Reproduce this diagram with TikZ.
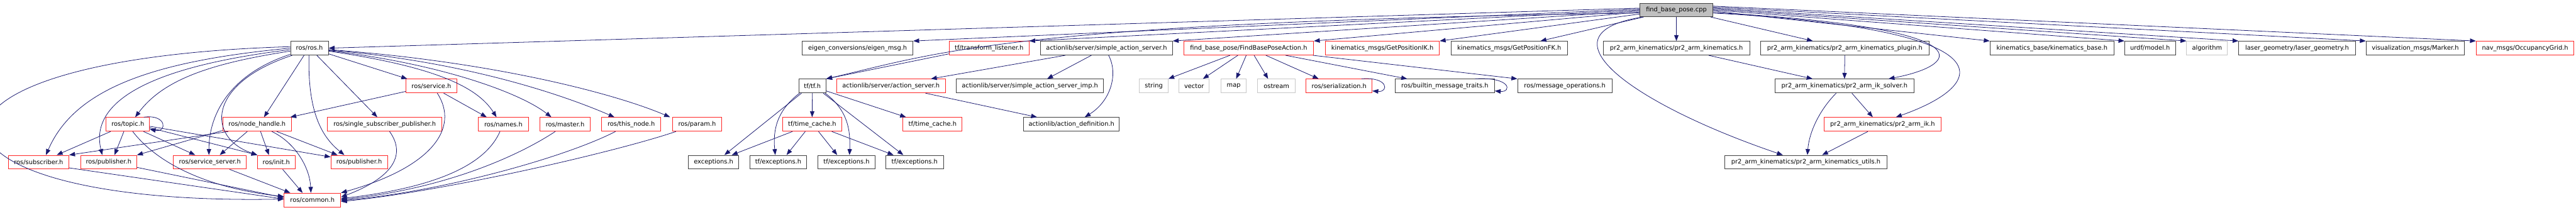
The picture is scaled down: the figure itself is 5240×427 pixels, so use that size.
\documentclass[tikz,border=0pt]{standalone}
\usepackage{fontspec}
\newfontfamily\dvfont{DejaVu Sans}
\usetikzlibrary{arrows.meta,calc}
\definecolor{midnight}{HTML}{191970}
\definecolor{fillgray}{HTML}{BFBFBF}
\definecolor{darkline}{HTML}{404040}
\definecolor{paleline}{HTML}{C8C8C8}
\newcommand{\boxfont}{\dvfont\fontsize{12.6pt}{15pt}\selectfont}
\tikzset{
  blk/.style={draw=darkline, fill=white, line width=1.2pt, minimum height=28pt, inner sep=0pt, font=\boxfont},
  redbox/.style={blk, draw=red!85!white},
  palebox/.style={blk, draw=paleline},
  rootbox/.style={blk, fill=fillgray, draw=darkline},
  dep/.style={draw=midnight, line width=1pt, -{Triangle[length=12pt,width=9pt]}},
}
\begin{document}
\begin{tikzpicture}[x=1pt,y=-1pt]
\useasboundingbox (0,0) rectangle (5240,427);
% row 0
\node[rootbox, minimum width=148pt, minimum height=27pt] (cpp) at (3410,20.5) {find\_base\_pose.cpp};
% row 1
\node[blk, minimum width=77pt] (ros) at (629.5,98) {ros/ros.h};
\node[blk, minimum width=225pt] (eigen) at (1744.5,98) {eigen\_conversions/eigen\_msg.h};
\node[redbox, minimum width=162pt] (tflist) at (2012,98) {tf/transform\_listener.h};
\node[blk, minimum width=268pt] (sas) at (2251,98) {actionlib/server/simple\_action\_server.h};
\node[redbox, minimum width=264pt] (fbpa) at (2540,98) {find\_base\_pose/FindBasePoseAction.h};
\node[redbox, minimum width=232pt] (gpik) at (2812,98) {kinematics\_msgs/GetPositionIK.h};
\node[blk, minimum width=236pt] (gpfk) at (3070,98) {kinematics\_msgs/GetPositionFK.h};
\node[blk, minimum width=298pt] (pak) at (3410,98) {pr2\_arm\_kinematics/pr2\_arm\_kinematics.h};
\node[blk, minimum width=343pt] (pakp) at (3752.5,98) {pr2\_arm\_kinematics/pr2\_arm\_kinematics\_plugin.h};
\node[blk, minimum width=252pt] (kb) at (4174,98) {kinematics\_base/kinematics\_base.h};
\node[blk, minimum width=103pt] (urdf) at (4373.5,98) {urdf/model.h};
\node[palebox, minimum width=83pt] (algo) at (4489.5,98) {algorithm};
\node[blk, minimum width=237pt] (laser) at (4672.5,98) {laser\_geometry/laser\_geometry.h};
\node[blk, minimum width=200pt] (marker) at (4913,98) {visualization\_msgs/Marker.h};
\node[redbox, minimum width=199pt] (occ) at (5136.5,98) {nav\_msgs/OccupancyGrid.h};
% row 2
\node[redbox, minimum width=103pt] (service) at (877.5,175) {ros/service.h};
\node[blk, minimum width=55pt] (tf) at (1652.5,175) {tf/tf.h};
\node[redbox, minimum width=221pt] (as) at (1812.5,175) {actionlib/server/action\_server.h};
\node[blk, minimum width=300pt] (sasi) at (2095,175) {actionlib/server/simple\_action\_server\_imp.h};
\node[palebox, minimum width=58pt] (string) at (2347,175) {string};
\node[palebox, minimum width=62pt] (vector) at (2429,175) {vector};
\node[palebox, minimum width=51pt] (map) at (2509.5,175) {map};
\node[palebox, minimum width=77pt] (ostream) at (2596.5,175) {ostream};
\node[redbox, minimum width=134pt] (ser) at (2724,175) {ros/serialization.h};
\node[blk, minimum width=202pt] (bmt) at (2939,175) {ros/builtin\_message\_traits.h};
\node[blk, minimum width=192pt] (mo) at (3183,175) {ros/message\_operations.h};
\node[blk, minimum width=282pt] (iks) at (3752,175) {pr2\_arm\_kinematics/pr2\_arm\_ik\_solver.h};
% row 3
\node[redbox, minimum width=88pt] (topic) at (260,253) {ros/topic.h};
\node[redbox, minimum width=140pt] (nh) at (523,253) {ros/node\_handle.h};
\node[redbox, minimum width=233pt] (ssp) at (782.5,253) {ros/single\_subscriber\_publisher.h};
\node[redbox, minimum width=102pt] (names) at (1024,253) {ros/names.h};
\node[redbox, minimum width=103pt] (master) at (1149.5,253) {ros/master.h};
\node[redbox, minimum width=120pt] (thisnode) at (1284,253) {ros/this\_node.h};
\node[redbox, minimum width=100pt] (param) at (1418,253) {ros/param.h};
\node[redbox, minimum width=120pt] (tc1) at (1652,253) {tf/time\_cache.h};
\node[redbox, minimum width=120pt] (tc2) at (1897,253) {tf/time\_cache.h};
\node[blk, minimum width=195pt] (ad) at (2179.5,253) {actionlib/action\_definition.h};
\node[redbox, minimum width=239pt] (ik) at (3829.5,253) {pr2\_arm\_kinematics/pr2\_arm\_ik.h};
% row 4
\node[redbox, minimum width=123pt] (sub) at (78.5,330) {ros/subscriber.h};
\node[redbox, minimum width=114pt] (pub1) at (221,330) {ros/publisher.h};
\node[redbox, minimum width=148pt] (ss) at (427,330) {ros/service\_server.h};
\node[redbox, minimum width=76pt] (init) at (562,330) {ros/init.h};
\node[redbox, minimum width=115pt] (pub2) at (730.5,330) {ros/publisher.h};
\node[blk, minimum width=103pt] (exc) at (1451.5,330) {exceptions.h};
\node[blk, minimum width=116pt] (tfe1) at (1583,330) {tf/exceptions.h};
\node[blk, minimum width=116pt] (tfe2) at (1722,330) {tf/exceptions.h};
\node[blk, minimum width=117pt] (tfe3) at (1860.5,330) {tf/exceptions.h};
\node[blk, minimum width=331pt] (utils) at (3673.5,330) {pr2\_arm\_kinematics/pr2\_arm\_kinematics\_utils.h};
% row 5
\node[redbox, minimum width=115pt] (common) at (635.5,407) {ros/common.h};

% ---- edges from find_base_pose.cpp
\draw[dep] ($(cpp.west)+(0,-4)$) -- (ros.east);
\draw[dep] ($(cpp.west)+(0,-2)$) -- (eigen.north east);
\draw[dep] ($(cpp.west)+(0,0)$) -- (tflist.north east);
\draw[dep] ($(cpp.west)+(0,2)$) -- (sas.north east);
\draw[dep] ($(cpp.west)+(0,4)$) -- (fbpa.north east);
\draw[dep] ($(cpp.west)+(0,8)$) -- (gpik.north east);
\draw[dep] ($(cpp.south west)+(8,0)$) -- ($(gpfk.north east)+(-55,0)$);
\draw[dep] (cpp.south) -- (pak.north);
\draw[dep] ($(cpp.south east)+(-5,0)$) -- ($(pakp.north)+(-65,0)$);
\draw[dep] ($(cpp.east)+(0,5)$) .. controls (4030,55) and (4000,130) .. ($(iks.north east)+(-52,0)$);
\draw[dep] ($(cpp.east)+(0,6)$) .. controls (4090,60) and (4050,170) .. ($(ik.north)+(27,0)$);
\draw[dep] ($(cpp.south west)+(6,0)$) .. controls (3120,70) and (3330,215) .. ($(utils.north)+(-47,0)$);
\draw[dep] ($(cpp.east)+(0,2)$) -- (kb.north west);
\draw[dep] ($(cpp.east)+(0,0)$) -- (urdf.north west);
\draw[dep] ($(cpp.east)+(0,-2)$) -- (algo.north west);
\draw[dep] ($(cpp.east)+(0,-4)$) -- (laser.north west);
\draw[dep] ($(cpp.east)+(0,-6)$) -- (marker.north west);
\draw[dep] ($(cpp.east)+(0,-8)$) -- (occ.north west);
\draw[dep] ($(cpp.west)+(0,6)$) .. controls (2050,45) and (1900,110) .. (tf.north east);
\draw[dep] ($(tflist.south west)+(0,-3)$) -- (tf.north east);

% ---- actionlib
\draw[dep] ($(sas.south)+(-84,0)$) -- ($(as.north east)+(-30,0)$);
\draw[dep] ($(sas.south)+(-31,0)$) -- ($(sasi.north)+(35,0)$);
\draw[dep] ($(sas.south)+(4,0)$) .. controls (2275,150) and (2260,205) .. ($(ad.north)+(27,0)$);
\draw[dep] ($(as.south)+(70,0)$) -- ($(ad.north)+(-70,0)$);

% ---- FindBasePoseAction.h
\draw[dep] ($(fbpa.south)+(-38,0)$) -- (string.north east);
\draw[dep] ($(fbpa.south)+(-22,0)$) -- ($(vector.north)+(18,0)$);
\draw[dep] ($(fbpa.south)+(-5,0)$) -- ($(map.north)+(5,0)$);
\draw[dep] ($(fbpa.south)+(11,0)$) -- ($(ostream.north)+(-17,0)$);
\draw[dep] ($(fbpa.south)+(35,0)$) -- ($(ser.north west)+(26,0)$);
\draw[dep] ($(fbpa.south)+(75,0)$) -- ($(bmt.north west)+(25,0)$);
\draw[dep] ($(fbpa.south east)+(-2,0)$) -- (mo.north west);
\draw[dep] ($(ser.north east)+(-22,0)$) .. controls (2825,156) and (2825,188) .. ($(ser.east)+(0,10)$);
\draw[dep] ($(bmt.north east)+(-40,0)$) .. controls (3075,156) and (3075,188) .. ($(bmt.east)+(0,10)$);

% ---- pr2
\draw[dep] ($(pak.south east)+(-84,0)$) -- ($(iks.north)+(-65,0)$);
\draw[dep] (pakp.south) -- (iks.north);
\draw[dep] ($(iks.south)+(-17,0)$) .. controls (3700,225) and (3680,270) .. ($(utils.north)+(3,0)$);
\draw[dep] ($(iks.south)+(15,0)$) -- ($(ik.north)+(-20,0)$);
\draw[dep] ($(ik.south)+(-30,0)$) -- ($(utils.north)+(33,0)$);

% ---- tf
\draw[dep] ($(tf.south west)+(6,0)$) -- ($(exc.north)+(22,0)$);
\draw[dep] ($(tf.south west)+(2,0)$) .. controls (1580,225) and (1572,265) .. ($(tfe1.north)+(-6,0)$);
\draw[dep] (tf.south) -- (tc1.north);
\draw[dep] ($(tf.south east)+(-2,0)$) .. controls (1725,225) and (1730,265) .. ($(tfe2.north)+(6,0)$);
\draw[dep] ($(tf.east)+(0,10)$) -- ($(tc2.north)+(-54,0)$);
\draw[dep] ($(tf.south east)+(-6,0)$) -- ($(tfe3.north)+(-23,0)$);
\draw[dep] ($(tc1.south)+(-40,0)$) -- ($(exc.north)+(37,0)$);
\draw[dep] ($(tc1.south)+(-14,0)$) -- ($(tfe1.north)+(17,0)$);
\draw[dep] ($(tc1.south)+(13,0)$) -- ($(tfe2.north)+(-19,0)$);
\draw[dep] ($(tc1.south)+(40,0)$) -- ($(tfe3.north)+(-43,0)$);

% ---- ros/ros.h
\draw[dep] ($(ros.south east)+(0,-3)$) -- ($(service.north west)+(3,0)$);
\draw[dep] ($(ros.south)+(-11,0)$) -- ($(nh.north)+(14,0)$);
\draw[dep] ($(ros.south)+(15,0)$) -- ($(ssp.north)+(-15,0)$);
\draw[dep] ($(ros.south)+(-1,0)$) .. controls (626,220) and (650,275) .. ($(pub2.north)+(-30,0)$);
\draw[dep] ($(ros.east)+(0,6)$) .. controls (880,135) and (970,175) .. ($(names.north)+(-14,0)$);
\draw[dep] ($(ros.east)+(0,5)$) .. controls (900,130) and (1060,190) .. ($(master.north)+(-28,0)$);
\draw[dep] ($(ros.east)+(0,4)$) .. controls (950,125) and (1150,195) .. ($(thisnode.north)+(-34,0)$);
\draw[dep] ($(ros.east)+(0,3)$) .. controls (1000,125) and (1250,190) .. ($(param.north)+(-55,0)$);
\draw[dep] ($(ros.west)+(0,6)$) .. controls (420,130) and (330,165) .. ($(topic.north)+(15,0)$);
\draw[dep] ($(ros.west)+(0,0)$) .. controls (300,125) and (150,185) .. ($(sub.north)+(15,0)$);
\draw[dep] ($(ros.west)+(0,3)$) .. controls (270,140) and (185,220) .. ($(pub1.north)+(-13,0)$);
\draw[dep] ($(ros.south west)+(0,-2)$) .. controls (470,150) and (425,230) .. ($(ss.north)+(-2,0)$);
\draw[dep] ($(ros.south west)+(4,0)$) .. controls (420,170) and (420,280) .. (init.north west);
\draw[dep] ($(ros.west)+(0,-3)$) .. controls (-260,120) and (-200,420) .. ($(common.west)+(0,-2)$);

% ---- ros/topic.h
\draw[dep] ($(topic.south)+(-35,0)$) -- ($(sub.north)+(37,0)$);
\draw[dep] ($(topic.south)+(-8,0)$) -- ($(pub1.north)+(12,0)$);
\draw[dep] ($(topic.south)+(32,0)$) -- ($(ss.north)+(-30,0)$);
\draw[dep] ($(topic.south)+(10,0)$) .. controls (310,320) and (400,380) .. ($(common.west)+(0,-7)$);
\draw[dep] ($(topic.east)+(0,4)$) -- ($(pub2.north west)+(0,4)$);
\draw[dep] ($(topic.east)+(0,7)$) -- (init.north west);
\draw[dep] ($(topic.north east)+(-12,0)$) .. controls (340,232) and (340,270) .. ($(topic.east)+(0,10)$);

% ---- ros/node_handle.h
\draw[dep] ($(nh.south west)+(12,0)$) -- (sub.north east);
\draw[dep] ($(nh.south west)+(0,-2)$) -- (pub1.north east);
\draw[dep] ($(nh.south)+(-20,0)$) -- ($(ss.north)+(20,0)$);
\draw[dep] ($(nh.south)+(7,0)$) -- ($(init.north)+(-15,0)$);
\draw[dep] ($(nh.south)+(30,0)$) .. controls (600,290) and (630,340) .. ($(common.north)+(-3,0)$);
\draw[dep] ($(nh.south)+(40,0)$) -- ($(pub2.north)+(-44,0)$);

% ---- ros/service.h
\draw[dep] ($(service.west)+(0,11)$) -- ($(nh.north east)+(-3,0)$);
\draw[dep] ($(service.south)+(25,0)$) -- ($(names.north)+(-34,0)$);
\draw[dep] ($(service.south)+(12,0)$) .. controls (935,260) and (880,340) .. (common.north east);

% ---- into ros/common.h
\draw[dep] ($(ssp.south)+(10,0)$) .. controls (830,320) and (790,365) .. ($(common.east)+(0,-6)$);
\draw[dep] ($(names.south)+(-7,0)$) .. controls (990,330) and (900,380) .. ($(common.east)+(0,-3)$);
\draw[dep] ($(master.south)+(-20,0)$) .. controls (1050,320) and (900,385) .. ($(common.east)+(0,-1)$);
\draw[dep] ($(thisnode.south)+(-32,0)$) .. controls (1150,320) and (900,390) .. ($(common.east)+(0,1)$);
\draw[dep] ($(param.south)+(-43,0)$) .. controls (1250,310) and (900,390) .. ($(common.east)+(0,3)$);
\draw[dep] ($(sub.south east)+(0,-3)$) -- ($(common.west)+(0,-2)$);
\draw[dep] ($(pub1.south east)+(0,-4)$) -- ($(common.west)+(0,-5)$);
\draw[dep] ($(ss.south)+(40,0)$) -- ($(common.north)+(-45,0)$);
\draw[dep] ($(init.south)+(13,0)$) -- ($(common.north)+(-20,0)$);
\end{tikzpicture}
\end{document}
